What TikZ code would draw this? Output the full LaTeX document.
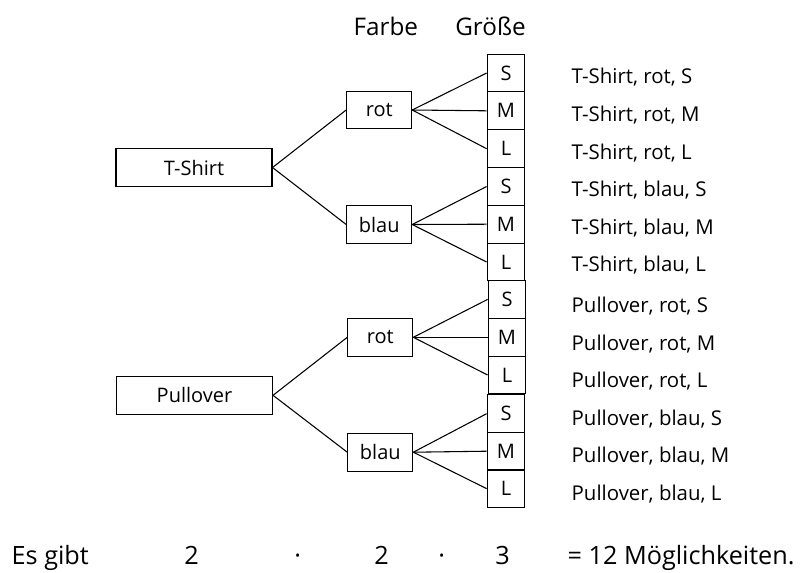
\documentclass[tikz,border=0pt]{standalone}
\usepackage{fontspec}
\setmainfont{Open Sans}

\begin{document}
\begin{tikzpicture}[x=0.75pt, y=-0.75pt,
	kasten/.style={draw, line width=0.8pt, inner sep=0pt, minimum height=28.3pt, font=\fontsize{15}{17}\selectfont},
	groesse/.style={kasten, minimum width=28.3pt},
	farbe/.style={kasten, minimum width=48.75pt},
	art/.style={kasten, minimum width=117pt},
	ast/.style={line width=0.8pt},
	liste/.style={anchor=base west, font=\fontsize{15.3}{17}\selectfont},
	titel/.style={anchor=base, font=\fontsize{18.2}{21}\selectfont},
	zeile/.style={anchor=base, font=\fontsize{18.9}{22}\selectfont}]
			%%%%% START %%%%%
			\useasboundingbox (0,0) rectangle (804,572);
			
			\node[titel] (tfarbe) at (385.8,35) {Farbe};
			\node[titel] (tgroesse) at (490.5,35) {Größe};
			
			\node[art] (tshirt) at (194,167.5) {T-Shirt};
			\node[art] (pullover) at (194.5,395.3) {Pullover};
			
			\node[farbe] (rot1) at (379.2,110) {rot};
			\node[farbe] (blau1) at (379.2,224.5) {blau};
			\node[farbe] (rot2) at (380.3,337.3) {rot};
			\node[farbe] (blau2) at (380.3,452.2) {blau};
			
			\node[groesse] (s1) at (506,73) {S};
			\node[groesse] (m1) at (506,110.8) {M};
			\node[groesse] (l1) at (506,148.7) {L};
			\node[groesse] (s2) at (506,186.5) {S};
			\node[groesse] (m2) at (506,224.2) {M};
			\node[groesse] (l2) at (506,262) {L};
			\node[groesse] (s3) at (507,299.4) {S};
			\node[groesse] (m3) at (507,337.3) {M};
			\node[groesse] (l3) at (507,375) {L};
			\node[groesse] (s4) at (506,413.7) {S};
			\node[groesse] (m4) at (506,451.2) {M};
			\node[groesse] (l4) at (506,488.6) {L};
			
			\draw[ast] (tshirt.east) -- (rot1.west);
			\draw[ast] (tshirt.east) -- (blau1.west);
			\draw[ast] (pullover.east) -- (rot2.west);
			\draw[ast] (pullover.east) -- (blau2.west);
			
			\draw[ast] (rot1.east) -- (s1.west);
			\draw[ast] (rot1.east) -- (m1.west);
			\draw[ast] (rot1.east) -- (l1.west);
			\draw[ast] (blau1.east) -- (s2.west);
			\draw[ast] (blau1.east) -- (m2.west);
			\draw[ast] (blau1.east) -- (l2.west);
			\draw[ast] (rot2.east) -- (s3.west);
			\draw[ast] (rot2.east) -- (m3.west);
			\draw[ast] (rot2.east) -- (l3.west);
			\draw[ast] (blau2.east) -- (s4.west);
			\draw[ast] (blau2.east) -- (m4.west);
			\draw[ast] (blau2.east) -- (l4.west);
			
			\node[liste] (e1) at (567,83.3) {T-Shirt, rot, S};
			\node[liste] (e2) at (567,121) {T-Shirt, rot, M};
			\node[liste] (e3) at (567,159) {T-Shirt, rot, L};
			\node[liste] (e4) at (567,196.7) {T-Shirt, blau, S};
			\node[liste] (e5) at (567,234.3) {T-Shirt, blau, M};
			\node[liste] (e6) at (567,271.7) {T-Shirt, blau, L};
			\node[liste] (e7) at (567,312.3) {Pullover, rot, S};
			\node[liste] (e8) at (567,350) {Pullover, rot, M};
			\node[liste] (e9) at (567,387.3) {Pullover, rot, L};
			\node[liste] (e10) at (567,425) {Pullover, blau, S};
			\node[liste] (e11) at (567,462.7) {Pullover, blau, M};
			\node[liste] (e12) at (567,500) {Pullover, blau, L};
			
			\node[zeile, anchor=base west] (esgibt) at (7,564) {Es gibt};
			\node[zeile] (zwei1) at (191.5,564) {2};
			\node[zeile] (mal1) at (297.7,564) {·};
			\node[zeile] (zwei2) at (381.7,564) {2};
			\node[zeile] (mal2) at (441.7,564) {·};
			\node[zeile] (drei) at (502.5,564) {3};
			\node[zeile, anchor=base west] (ergebnis) at (563,564) {= 12 Möglichkeiten.};
			
			%%%%% END %%%%%
\end{tikzpicture}
\end{document}
